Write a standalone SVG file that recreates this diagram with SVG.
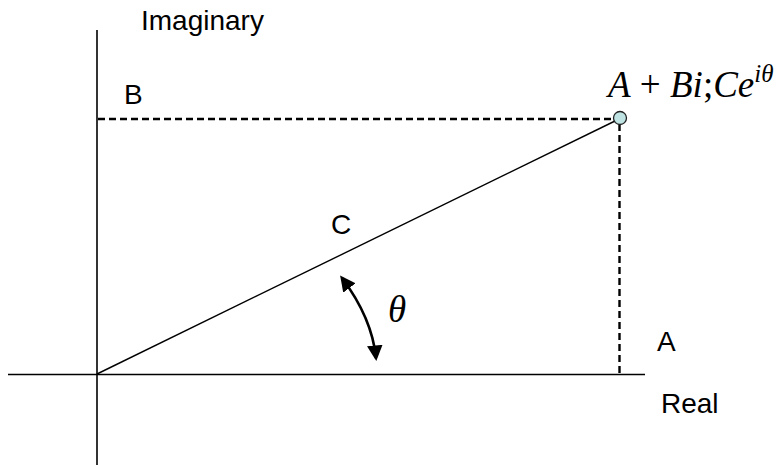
<svg xmlns="http://www.w3.org/2000/svg" width="780" height="465" viewBox="0 0 780 465">
  <style>
    .lbl { font-family: "Liberation Sans", Arial, sans-serif; font-size: 28px; fill: #000; }
    .math { font-family: "Liberation Serif", "Times New Roman", serif; font-size: 37px; fill: #000; }
    .axis { stroke: #000; stroke-width: 1.6; fill: none; }
    .dash { stroke: #000; stroke-width: 2.4; stroke-dasharray: 7 4; fill: none; }
  </style>
  <defs>
    <marker id="ah" viewBox="0 0 10 10" refX="8" refY="5" markerWidth="6" markerHeight="6" orient="auto-start-reverse" markerUnits="strokeWidth">
      <path d="M0,0 L10,5 L0,10 Z" fill="#000"/>
    </marker>
  </defs>
  <g id="connectors">
    <line class="axis" x1="8" y1="374.5" x2="645" y2="374.5"/>
    <line class="axis" x1="97" y1="30" x2="97" y2="465"/>
    <line class="dash" x1="98" y1="119" x2="614" y2="119"/>
    <line class="dash" x1="619.5" y1="124" x2="619.5" y2="374"/>
    <line stroke="#000" stroke-width="1.4" x1="97" y1="374" x2="615" y2="121"/>
    <path d="M342,278 Q372,318 376,358" fill="none" stroke="#000" stroke-width="2.6" marker-start="url(#ah)" marker-end="url(#ah)"/>
  </g>
  <g id="point">
    <circle cx="620" cy="118" r="6.5" fill="#bfe3e3" stroke="#222" stroke-width="1.3"/>
  </g>
  <g id="labels">
    <text class="lbl" x="141" y="30">Imaginary</text>
    <text class="lbl" x="124" y="104">B</text>
    <text class="lbl" x="331" y="234">C</text>
    <text class="lbl" x="657" y="351">A</text>
    <text class="lbl" x="661" y="413">Real</text>
    <text class="math" x="388" y="322" font-style="italic" font-size="42">θ</text>
    <text class="math" x="608" y="97"><tspan font-style="italic">A</tspan><tspan> + </tspan><tspan font-style="italic">Bi</tspan><tspan>;</tspan><tspan font-style="italic">Ce</tspan><tspan font-style="italic" font-size="25" dy="-15">iθ</tspan></text>
  </g>
</svg>
